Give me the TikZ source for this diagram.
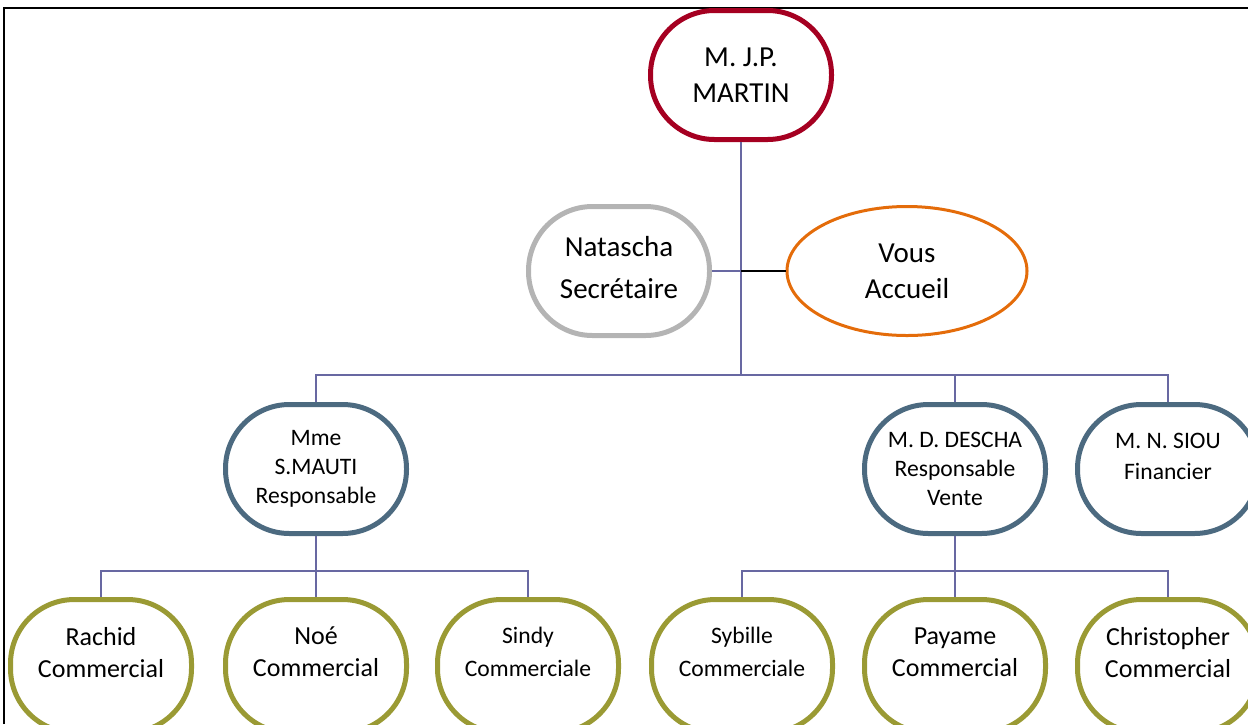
\documentclass[tikz,border=0pt]{standalone}
\usepackage{fontspec}
\setmainfont{Carlito}
\usetikzlibrary{shapes.geometric}
\definecolor{rougedir}{RGB}{165,0,33}
\definecolor{grissec}{RGB}{180,180,180}
\definecolor{orangeacc}{RGB}{228,108,10}
\definecolor{ardoise}{RGB}{76,106,128}
\definecolor{verteolive}{RGB}{154,154,52}
\definecolor{liens}{RGB}{104,104,162}

\begin{document}
\begin{tikzpicture}[x=1pt, y=-1pt,
  boite/.style={draw, line width=5pt, rectangle, rounded corners=64pt, minimum width=181pt, minimum height=129pt, align=center, inner sep=0pt},
  grand/.style={font={\fontsize{29}{36}\selectfont}},
  moyen/.style={font={\fontsize{26}{32}\selectfont}},
  petit/.style={font={\fontsize{23.6}{29}\selectfont}},
  direction/.style={boite, grand, draw=rougedir},
  secretaire/.style={boite, grand, draw=grissec, font={\fontsize{29}{42}\selectfont}, text depth=8pt},
  accueil/.style={draw=orangeacc, line width=3pt, ellipse, minimum width=240pt, minimum height=129pt, inner sep=0pt, align=center, grand},
  responsable/.style={boite, petit, draw=ardoise},
  commercial/.style={boite, moyen, draw=verteolive, minimum height=133pt, text depth=28pt},
  liaison/.style={draw=liens, line width=1.5pt}]
\useasboundingbox (0,0) rectangle (1248,724);
\draw[line width=2pt] (4,724) -- (4,8) -- (1248,8);
\node[direction] (martin) at (741,75) {M. J.P.\\MARTIN};
\node[secretaire] (natascha) at (619,271) {Natascha\\Secrétaire};
\node[accueil] (vous) at (907,271) {Vous\\Accueil};
\node[responsable] (mauti) at (316,469) {Mme\\S.MAUTI\\Responsable};
\node[responsable] (descha) at (955,469) {M. D. DESCHA\\Responsable\\Vente};
\node[responsable, font={\fontsize{23.6}{31}\selectfont}, text depth=25pt] (siou) at (1168,469) {M. N. SIOU\\Financier};
\node[commercial] (rachid) at (101,666) {Rachid\\Commercial};
\node[commercial] (noe) at (316,666) {Noé\\Commercial};
\node[commercial, petit, font={\fontsize{23.6}{33}\selectfont}] (sindy) at (528,666) {Sindy\\Commerciale};
\node[commercial, petit, font={\fontsize{23.6}{33}\selectfont}] (sybille) at (742,666) {Sybille\\Commerciale};
\node[commercial] (payame) at (955,666) {Payame\\Commercial};
\node[commercial] (christopher) at (1168,666) {Christopher\\Commercial};
\coordinate (bus) at (741,375);
\coordinate (busg) at (316,571);
\coordinate (busd) at (955,571);
\draw[liaison] (martin.south) -- (bus);
\draw[liaison] (mauti.north) |- (bus) -| (siou.north);
\draw[liaison] (bus) -| (descha.north);
\draw[liaison] (natascha.east) -- (natascha.east -| bus);
\draw[line width=1.2pt] (natascha.east -| bus) -- (vous.west);
% equipes commerciales sous chaque responsable
\draw[liaison] (mauti.south) -- (noe.north);
\draw[liaison] (rachid.north) |- (busg) -| (sindy.north);
\draw[liaison] (descha.south) -- (payame.north);
\draw[liaison] (sybille.north) |- (busd) -| (christopher.north);
\end{tikzpicture}
\end{document}
